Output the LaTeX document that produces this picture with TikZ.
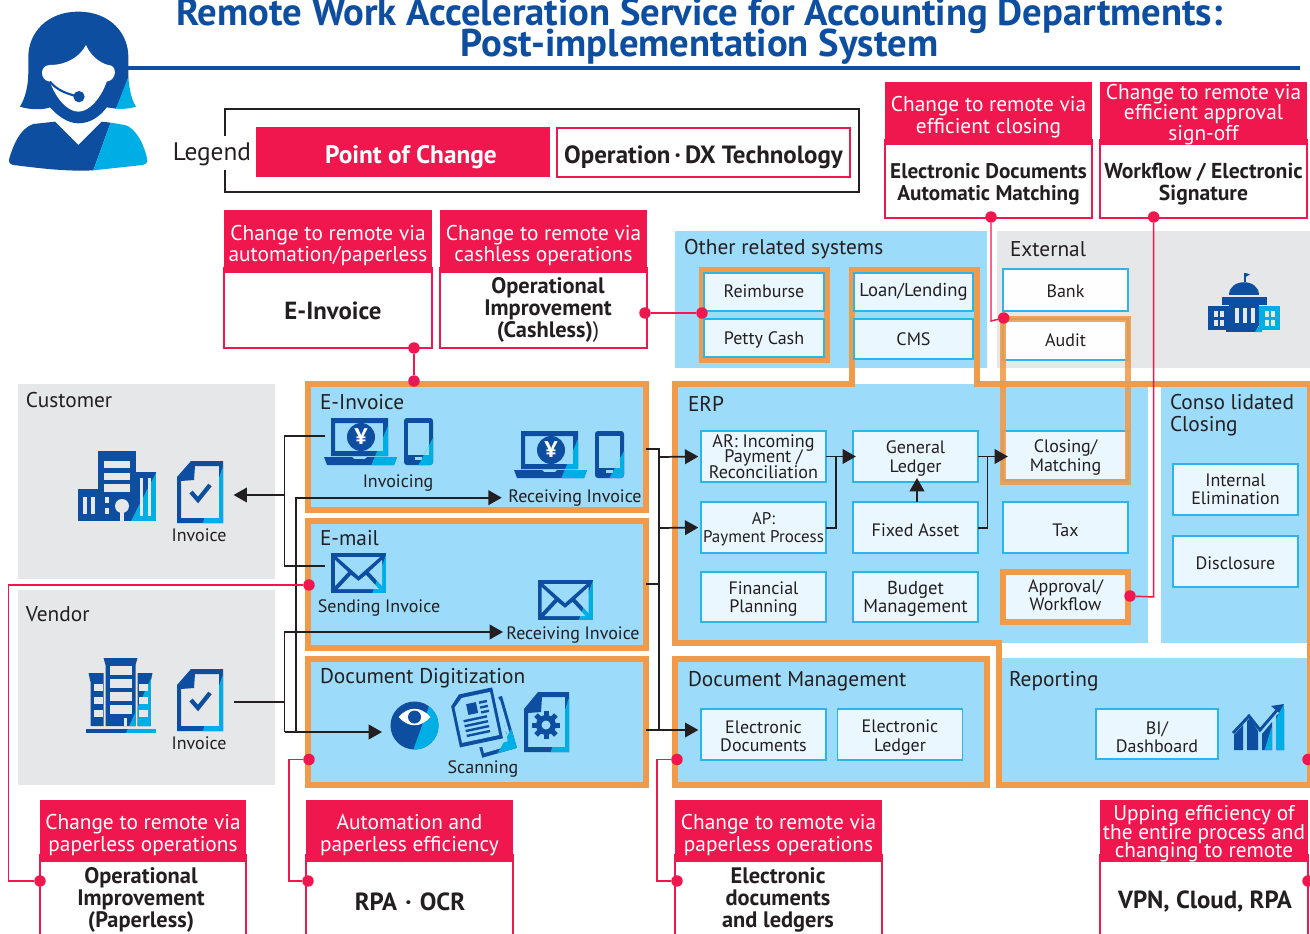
\documentclass[tikz,border=0pt]{standalone}
\usepackage{fontspec}
\setmainfont{PT Sans}
\usetikzlibrary{arrows.meta}
\definecolor{rd}{HTML}{EF174D}
\definecolor{org}{HTML}{F09A4A}
\definecolor{lb}{HTML}{9CDBF9}
\definecolor{bxf}{HTML}{EAF7FE}
\definecolor{bxd}{HTML}{2CB5EA}
\definecolor{gy}{HTML}{E6E7E8}
\definecolor{tx}{HTML}{231F20}
\definecolor{dkb}{HTML}{0E4EA0}
\definecolor{cyb}{HTML}{00AEE6}
\newcommand\fpx[2]{\fontsize{#1}{#2}\selectfont\lineskiplimit=-50pt\relax}
\newcommand\twotone[2]{\begin{scope}\colorlet{ic}{dkb}#2\end{scope}\begin{scope}\clip #1;\colorlet{ic}{cyb}#2\end{scope}}
% box with its text: style, coords, name, text style, downward shift in px, text
\newcommand\bxn[6]{\node[#1,bx=#2] (#3) {};\node[#4,yshift={-(#5)*0.75pt}] (#3-t) at (#3) {#6};}
\tikzset{
 bx/.style n args={4}{minimum width={(#3-#1)*0.75pt},minimum height={(#4-#2)*0.75pt},at={({(#1+#3)/2},{(#2+#4)/2})}},
 base/.style={inner sep=0pt,outer sep=0pt,text=tx,align=center},
 lab/.style={base,font=\fpx{13.5}{14.6},text height=11pt,text depth=1.5pt},
 ttl/.style={base,anchor=west,font=\fpx{16}{18},text height=13pt,text depth=1.8pt},
 sysb/.style={base,draw=bxd,fill=bxf,line width=1.1pt},
 sysl/.style={base,font=\fpx{13.5}{13.7}},
 extb/.style={sysb,fill=white!97!gy},
 bluep/.style={base,fill=lb},
 greyp/.style={base,fill=gy},
 orgp/.style={base,fill=lb,draw=org,line width=4.5pt},
 orgf/.style={draw=org,line width=4.5pt},
 hd/.style={base,fill=rd},
 hl/.style={base,text=white,font=\fpx{16}{16.4}},
 bd/.style={base,draw=rd,fill=white,line width=1.2pt},
 bt/.style={base,font=\bfseries\fpx{16.8}{16.2}},
 bb/.style={base,font=\bfseries\fpx{18.6}{18.6}},
 ln/.style={draw=tx,line width=1.3pt},
 arr/.style={ln,-{Triangle[length=10pt,width=11pt]}},
 rl/.style={draw=rd,line width=1.1pt},
 dot/.style={fill=rd,inner sep=0pt,minimum size=8.6pt,circle,outer sep=0pt},
}
\newcommand\icnDoc[2]{\begin{scope}[shift={(#1,#2)}]\twotone{(48,0)--(48,64)--(25,64)--cycle}{
 \fill[ic,even odd rule] (0,16)--(14,0)--(46,0)--(46,62)--(0,62)--cycle (4,20)--(17,19)--(18,5)--(42,5)--(42,57)--(4,57)--cycle;}
 \draw[dkb,line width=3.2pt,line cap=butt] (14,31)--(21,39)--(33,24);\end{scope}}
\newcommand\icnLaptop[2]{\begin{scope}[shift={(#1,#2)}]\twotone{(64,8)--(76,50)--(46,50)--cycle}{
 \fill[ic,even odd rule] (7,0)--(64,0)--(64,38)--(7,38)--cycle (11,5)--(59,5)--(59,33)--(11,33)--cycle;
 \fill[ic] (0,39)--(28,39)--(30,41)--(41,41)--(43,39)--(73,39)--(70,47)--(3,47)--cycle;}
 \fill[dkb] (37,19) circle (14);\node[base,text=white,font=\bfseries\fpx{17}{17}] at (37,19) {¥};\end{scope}}
\newcommand\icnPhone[2]{\begin{scope}[shift={(#1,#2)}]\twotone{(30,18)--(30,48)--(14,48)--cycle}{
 \fill[ic,rounded corners=2.2pt] (0,0) rectangle (29,47);
 \fill[lb] (4,5) rectangle (25,37);\fill[lb] (11,39) rectangle (18,42);}\end{scope}}
\newcommand\icnMail[2]{\begin{scope}[shift={(#1,#2)}]\twotone{(56,-1)--(56,41)--(41,41)--cycle}{
 \fill[ic] (0,0) rectangle (55,40);}
 \fill[lb] (6,4)--(49,4)--(27.5,23)--cycle;
 \fill[lb] (4,7)--(17,19)--(4,33)--cycle;\fill[lb] (51,7)--(38,19)--(51,33)--cycle;
 \fill[lb] (7,36)--(20,22)--(27.5,28)--(35,22)--(48,36)--cycle;\end{scope}}
\begin{document}
\begin{tikzpicture}[x=0.75pt,y=-0.75pt]
\useasboundingbox (0,0) rectangle (1310,934);
\clip (0,0) rectangle (1310,934);
% ---------- title
\node[base,text=dkb,font=\bfseries\fpx{29}{23.6}] (title) at (699.5,31) {Remote Work Acceleration Service for Accounting Departments:\\Post-implementation System};
\coordinate (rs) at (128,68);\coordinate (re) at (1300,68);
\draw[dkb,line width=2.8pt] (rs)--(re);
% ---------- person
\begin{scope}[scale=1/3]
\fill[dkb] (235,35) .. controls (140,35) and (85,100) .. (85,170) -- (85,215) .. controls (85,260) and (75,295) .. (60,320) .. controls (90,330) and (130,330) .. (150,322) .. controls (175,350) and (205,370) .. (235,370) .. controls (270,370) and (300,350) .. (320,322) -- (348,326) .. controls (365,290) and (385,250) .. (385,230) -- (385,170) .. controls (385,100) and (330,35) .. (235,35) -- cycle;
\fill[cyb] (385,230) .. controls (388,270) and (395,300) .. (408,320) .. controls (390,326) and (370,328) .. (348,326) -- cycle;
\fill[white] (258,135) .. controls (240,170) and (200,195) .. (150,195) .. controls (118,195) and (118,242) .. (150,245) .. controls (165,290) and (200,335) .. (235,335) .. controls (270,335) and (305,290) .. (320,245) .. controls (352,240) and (352,195) .. (325,195) .. controls (300,190) and (270,165) .. (258,135) -- cycle;
\draw[dkb,line width=1.6pt] (150,245) .. controls (170,270) and (200,282) .. (237,290);
\fill[dkb] (237,290) circle (17);
\fill[dkb] (165,365) -- (235,435) -- (305,365) -- (332,368) -- (280,511) .. controls (200,515) and (120,505) .. (40,495) .. controls (28,492) and (25,485) .. (28,475) .. controls (40,435) and (60,385) .. (100,372) -- cycle;
\fill[cyb] (332,368) -- (375,375) .. controls (410,385) and (435,440) .. (442,480) .. controls (442,490) and (435,494) .. (428,495) -- (280,511) -- cycle;
\end{scope}
% ---------- legend
\node[base,font=\fpx{19}{19}] (legend) at (212,154.5) {Legend};
\draw[tx,line width=0.8pt] (225,136)--(225,109)--(859,109)--(859,192)--(225,192)--(225,170);
\node[hd,bx={256}{127}{550}{177}] (lg1) {};
\node[base,text=white,font=\bfseries\fpx{19}{19}] (lg1-t) at (411,157) {Point of Change};
\bxn{bd}{{557}{128}{850}{177}}{lg2}{base,font=\bfseries\fpx{18.7}{18.7}}{4.5}{Operation\,·\,DX Technology}
% ---------- upper red boxes
\node[bd,bx={885}{140}{1092}{218}] (b1) {};
\bxn{hd}{{885}{82}{1092}{145}}{h1}{hl}{4}{Change to remote via\\efficient closing}
\node[base,font=\bfseries\fpx{15.9}{16.6}] (t1) at (988.5,184) {Electronic Documents\\Automatic Matching};
\node[bd,bx={1100}{140}{1307}{218}] (b2) {};
\bxn{hd}{{1100}{82}{1307}{145}}{h2}{hl,font=\fpx{16}{15.5}}{1}{Change to remote via\\efficient approval\\sign-off}
\node[base,font=\bfseries\fpx{16.2}{16.6}] (t2) at (1203.5,184) {Workflow / Electronic\\Signature};
\node[bd,bx={224}{268}{432}{348}] (b3) {};
\bxn{hd}{{224}{210}{432}{273}}{h3}{hl}{4}{Change to remote via\\automation/paperless}
\node[bb] (t3) at (333,311) {E-Invoice};
\node[bd,bx={440}{268}{647}{348}] (b4) {};
\bxn{hd}{{440}{210}{647}{273}}{h4}{hl}{4}{Change to remote via\\cashless operations}
\node[bt] (t4) at (548,310) {Operational\\Improvement\\(Cashless){\mdseries)}};
% ---------- lower red boxes
\node[bd,bx={40}{855}{246}{950}] (b5) {};
\bxn{hd}{{40}{800}{246}{862}}{h5}{hl}{4}{Change to remote via\\paperless operations}
\node[bt] (t5) at (141,900) {Operational\\Improvement\\(Paperless)};
\node[bd,bx={306}{855}{513}{950}] (b6) {};
\bxn{hd}{{306}{800}{513}{862}}{h6}{hl}{4}{Automation and\\paperless efficiency}
\node[bb] (t6) at (410,901.5) {RPA\,\,·\,\,OCR};
\node[bd,bx={675}{855}{882}{950}] (b7) {};
\bxn{hd}{{675}{800}{882}{862}}{h7}{hl}{4}{Change to remote via\\paperless operations}
\node[bt] (t7) at (778,900) {Electronic\\documents\\and ledgers};
\node[bd,bx={1100}{855}{1308}{950}] (b8) {};
\bxn{hd}{{1100}{800}{1308}{862}}{h8}{hl,font=\fpx{16}{14}}{3}{Upping efficiency of\\the entire process and\\changing to remote}
\node[bb] (t8) at (1205,901.5) {VPN, Cloud, RPA};
% ---------- grey and blue panels
\node[bluep,bx={675}{231}{987}{368}] (other) {};
\node[greyp,bx={997}{231}{1310}{368}] (ext) {};
\node[greyp,bx={18}{384}{275}{579}] (cust) {};
\node[greyp,bx={18}{590}{275}{785}] (vend) {};
\node[bluep,bx={675}{384}{1148}{643}] (erp) {};
\node[bluep,bx={1161}{384}{1310}{643}] (cons) {};
\node[bluep,bx={998}{658}{1310}{785}] (rep) {};
\node[orgp,bx={308}{384}{646}{510}] (einv) {};
\node[orgp,bx={308}{521}{646}{648}] (mail) {};
\node[orgp,bx={308}{659}{646}{785}] (digi) {};
\node[orgp,bx={675}{659}{986.5}{785}] (docm) {};
% big orange outline
\draw[orgf,line join=miter] (851.5,270)--(977,270)--(977,384)--(1310,384)--(1310,785)--(998.5,785)--(998.5,643)--(675,643)--(675,384)--(851.5,384)--cycle;
\draw[orgf] (701.5,270) rectangle (827,360);
% ---------- panel titles
\node[ttl] at (684,247) {Other related systems};
\node[ttl] at (1010,249) {External};
\node[ttl] at (26,400) {Customer};
\node[ttl] at (26,614) {Vendor};
\node[ttl] at (320,402) {E-Invoice};
\node[ttl] at (320,538) {E-mail};
\node[ttl] at (320,676) {Document Digitization};
\node[ttl] at (688,404) {ERP};
\node[base,anchor=west,align=left,font=\fpx{16}{16.6}] at (1170,415) {Conso lidated\\Closing};
\node[ttl] at (688,679) {Document Management};
\node[ttl] at (1009,679) {Reporting};
% ---------- system boxes
\bxn{sysb}{{704}{273}{824}{311}}{reimb}{sysl}{-1}{Reimburse}
\bxn{sysb}{{704}{319}{824}{357}}{petty}{sysl}{2}{Petty Cash}
\bxn{sysb}{{854}{273}{973}{311}}{loan}{sysl,font=\fpx{14}{14}}{0}{Loan/Lending}
\bxn{sysb}{{854}{319}{973}{359}}{cms}{sysl}{0}{CMS}
\bxn{extb}{{1003}{269}{1128}{311}}{bank}{sysl}{1}{Bank}
\bxn{extb}{{1003}{319}{1128}{360}}{audit}{sysl}{1}{Audit}
\bxn{sysb}{{701}{431}{826}{482}}{ar}{sysl,font=\fpx{13.6}{11.7}}{0}{AR: Incoming\\Payment /\\Reconciliation}
\bxn{sysb}{{853}{431}{978}{482}}{gl}{sysl}{2}{General\\Ledger}
\bxn{sysb}{{1003}{431}{1128}{480}}{close}{sysl}{2}{Closing/\\Matching}
\bxn{sysb}{{701}{502}{826}{553}}{ap}{sysl,font=\fpx{12.7}{13.7}}{2}{AP:\\Payment Process}
\bxn{sysb}{{853}{502}{978}{553}}{fa}{sysl}{3}{Fixed Asset}
\bxn{sysb}{{1003}{502}{1128}{553}}{tax}{sysl}{3}{Tax}
\bxn{sysb}{{701}{572}{826}{622}}{fin}{sysl}{2}{Financial\\Planning}
\bxn{sysb}{{853}{572}{978}{622}}{bud}{sysl,font=\fpx{14}{13.7}}{2}{Budget\\Management}
\bxn{sysb}{{1003}{573}{1128}{621}}{appr}{sysl}{-2}{Approval/\\Workflow}
\bxn{sysb}{{1173}{464}{1298}{515}}{intel}{sysl}{0}{Internal\\Elimination}
\bxn{sysb}{{1173}{536}{1298}{587}}{disc}{sysl}{2}{Disclosure}
\bxn{sysb}{{701}{709}{826}{760}}{edoc}{sysl}{2}{Electronic\\Documents}
\bxn{sysb}{{837.5}{709}{962.5}{760}}{eled}{sysl}{3}{Electronic\\Ledger}
\bxn{sysb}{{1096}{709}{1218}{759}}{bi}{sysl}{3}{BI/\\Dashboard}
% orange overlays
\draw[orgf,opacity=.88] (1003,319) rectangle (1128,482);
\draw[orgf] (1003,572) rectangle (1128,622);
% ---------- icons
% customer building
\begin{scope}[shift={(78,451)}]
\twotone{(80,18)--(80,72)--(52,72)--cycle}{
\fill[ic] (20,0) rectangle (58,40);\fill[ic] (0,38) rectangle (78,70);\fill[ic] (58,21) rectangle (78,70);}
\fill[gy] (26,10) rectangle (52,17);\fill[gy] (26,22) rectangle (52,29);\fill[gy] (26,33) rectangle (52,41);
\fill[gy] (5,46) rectangle (9,63);\fill[gy] (13,46) rectangle (17,63);\fill[gy] (27,46) rectangle (31,52);\fill[gy] (27,57) rectangle (31,63);
\fill[gy] (44,55) circle (7);\fill[gy] (42,58) rectangle (46,70);
\fill[gy] (62,27) rectangle (65,65);\fill[gy] (70,27) rectangle (73,65);
\end{scope}
\icnDoc{177}{461}
% vendor building
\begin{scope}[shift={(85.5,658)}]
\twotone{(72,6)--(72,76)--(40,76)--cycle}{
\fill[ic] (18,0)--(52,0)--(50,7)--(50,68)--(20,68)--(20,7)--cycle;
\fill[ic] (3,15)--(18,15)--(18,24)--(18,68)--(5,68)--(5,24)--cycle;
\fill[ic] (52,15)--(67,15)--(65,24)--(65,68)--(52,68)--cycle;
\fill[ic] (0,71) rectangle (70,75);}
\foreach \yy in {8,21,34,47}{\fill[gy] (24,\yy) rectangle (46,{\yy+9});}
\foreach \yy in {26,39,52}{\fill[gy] (8,\yy) rectangle (17,{\yy+7});\fill[gy] (53,\yy) rectangle (62,{\yy+7});}
\fill[gy] (38,60) rectangle (41,68);
\end{scope}
\icnDoc{177}{669}
\node[lab] (inv1) at (199,535) {Invoice};
\node[lab] (inv2) at (199,743) {Invoice};
\icnLaptop{324}{418}\icnPhone{404}{418}
\icnLaptop{514}{431}\icnPhone{595}{431}
\node[lab] at (398,481) {Invoicing};
\node[lab] at (575,496) {Receiving Invoice};
\icnMail{331}{553}\icnMail{537.5}{580}
\node[lab] at (379,606) {Sending Invoice};
\node[lab] at (573,633) {Receiving Invoice};
% eye
\begin{scope}[shift={(390.5,702)}]
\fill[dkb] (24,23.5) circle (24);
\begin{scope}\clip (24,23.5) circle (24);\fill[cyb] (40,0)--(50,0)--(50,50)--(22,50)--cycle;\end{scope}
\fill[white] (8,15) .. controls (18,4) and (30,4) .. (40,15) .. controls (30,26) and (18,26) .. (8,15) -- cycle;
\fill[dkb] (24,15) circle (6.5);
\end{scope}
% scanned papers
\begin{scope}[shift={(454,691)}]
\begin{scope}[rotate around={16:(34,36)}]
\fill[dkb] (20,10) rectangle (56,64);\fill[lb] (23,13) rectangle (53,60);
\fill[cyb] (40,60)--(56,44)--(56,64)--(36,64)--cycle;
\foreach \yy in {24,31,38,45}{\fill[dkb] (42,\yy) rectangle (50,{\yy+3});}
\end{scope}
\begin{scope}[rotate around={12:(24,26)}]
\fill[lb] (-2,-2) rectangle (48,56);
\fill[dkb] (0,10)--(10,0)--(44,0)--(44,52)--(0,52)--cycle;
\fill[lb] (3,12)--(12,4)--(41,4)--(41,48)--(3,48)--cycle;
\fill[dkb] (15,11) rectangle (25,22);
\foreach \yy in {26,31,36,41}{\fill[dkb] (9,\yy) rectangle (33,{\yy+2.4});}
\foreach \yy in {11,16,21}{\fill[dkb] (28,\yy) rectangle (36,{\yy+2.4});}
\end{scope}
\end{scope}
% gear doc
\begin{scope}[shift={(524,692)}]
\twotone{(47,0)--(47,62)--(26,62)--cycle}{
\fill[ic,even odd rule] (0,17)--(14,0)--(45,0)--(45,60)--(0,60)--cycle (4,21)--(17,20)--(18,5)--(41,5)--(41,55)--(4,55)--cycle;}
\foreach \a in {0,45,...,315}{\fill[dkb,rotate around={\a:(22,33)}] (19.5,19) rectangle (24.5,26);}
\fill[dkb] (22,33) circle (10);\fill[lb] (22,33) circle (4.5);
\end{scope}
\node[lab] at (483,767) {Scanning};
% bank
\begin{scope}[shift={(1208,273)}]
\fill[dkb] (36,0) rectangle (37.5,9);\fill[dkb] (37.5,0)--(42,1.5)--(37.5,4)--cycle;
\fill[dkb] (21,22) .. controls (21,5) and (51,5) .. (51,22) -- cycle;
\fill[dkb] (14,24) rectangle (58.5,32);
\fill[dkb] (21,32) rectangle (51,53);
\foreach \xx in {27,35,43}{\fill[gy] (\xx,35) rectangle (\xx+3.5,50);}
\fill[dkb] (18,52) rectangle (50,59);\fill[cyb] (50,54)--(54,54)--(54,59)--(47,59)--cycle;
\fill[dkb] (0,33) rectangle (21,57);\fill[cyb] (51,33) rectangle (72,57);
\foreach \xx in {6,12}{\foreach \yy in {38,47}{\fill[gy] (\xx,\yy) rectangle (\xx+3.5,\yy+6);}}
\foreach \xx in {57,63}{\foreach \yy in {38,47}{\fill[gy] (\xx,\yy) rectangle (\xx+3.5,\yy+6);}}
\end{scope}
% chart
\begin{scope}[shift={(1233,704)}]
\twotone{(52,-2)--(52,48)--(31,48)--(38,25)--cycle}{
\fill[ic] (1,31)--(10,21)--(10,46)--(1,46)--cycle;
\fill[ic] (14,17)--(17,14)--(25,27)--(25,46)--(14,46)--cycle;
\fill[ic] (29,30)--(39,18)--(39,46)--(29,46)--cycle;
\fill[ic] (43,12)--(51,5)--(51,46)--(43,46)--cycle;
\draw[ic,line width=2.2pt] (0,29)--(16,12)--(27,26)--(45,5);
\fill[ic] (38,2)--(51,0)--(50,12)--cycle;}
\end{scope}
% ---------- black connectors
\coordinate (cl) at (284.5,495);
\coordinate (custdoc) at (233.6,495);
\coordinate (lap1) at (325,436);
\coordinate (env1) at (325,566);
\coordinate (venddoc) at (233.6,702);
\coordinate (vj) at (284.5,702);
\coordinate (scan) at (382,732);
\coordinate (ri1) at (501.7,497.7);
\coordinate (ri2) at (503,632);
\draw[ln] (lap1)-|(env1 -| cl)--(env1);
\draw[arr] (cl)--(custdoc);
\draw[arr] (296,732)--(296,497.7)--(ri1);
\draw[ln] (venddoc)--(vj);
\draw[arr] (284.5,732)--(284.5,632)--(ri2);
\draw[arr] (284.5,732)--(scan);
\draw[ln] (einv.east |- 0,449)-|(659,730);
\draw[ln] (mail.east |- 0,584)--(659,584);
\draw[arr,shorten >=2pt] (digi.east |- 0,730)--(edoc.west |- 0,730);
\draw[arr,shorten >=2pt] (659,457)--(ar.west);
\draw[arr,shorten >=2pt] (659,528)--(ap.west);
\draw[arr,shorten >=-2.2pt] (ar.east)--(gl.west);
\draw[ln] (ap.east |- 0,528)-|(836,457);
\draw[arr,shorten >=-3.7pt] (gl.east)--(close.west |- gl.east);
\draw[ln] (fa.east |- 0,528)-|(987.5,457);
\draw[arr,shorten >=-3pt] (fa.north -| 917,0)--(gl.south -| 917,0);
% ---------- red connectors
\node[dot] (d1a) at (414,348) {};\node[dot] (d1b) at (414,381) {};
\draw[rl] (d1a)--(d1b);
\node[dot] (d2a) at (645,313) {};\node[dot] (d2b) at (702,313) {};
\draw[rl] (d2a)--(d2b);
\node[dot] (d3a) at (991,217) {};\node[dot] (d3b) at (1003.7,318) {};
\draw[rl] (d3a)--(991,321)--(d3b);
\node[dot] (d4a) at (1153.7,217) {};\node[dot] (d4b) at (1130,596) {};
\draw[rl] (d4a)--(1153.7,597)--(d4b);
\node[dot] (d5a) at (309,585) {};\node[dot] (d5b) at (40,881) {};
\draw[rl] (d5a)-|(8.5,881)--(d5b);
\node[dot] (d6a) at (309,759.5) {};\node[dot] (d6b) at (308,881) {};
\draw[rl] (d6a)-|(289,881)--(d6b);
\node[dot] (d7a) at (677,759.5) {};\node[dot] (d7b) at (677,881) {};
\draw[rl] (d7a)-|(657,881)--(d7b);
\node[dot] (d8a) at (1308,759.5) {};\node[dot] (d8b) at (1308,881) {};
\end{tikzpicture}
\end{document}
